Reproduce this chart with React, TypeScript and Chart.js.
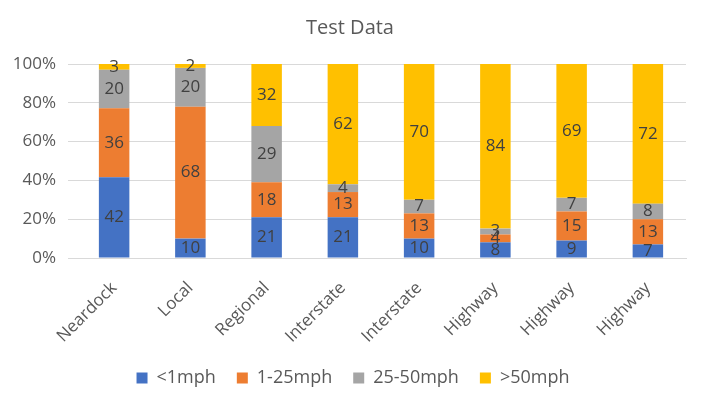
import React, { useEffect, useRef } from "react";
import { Chart, registerables } from "chart.js";

Chart.register(...registerables);

const categories = ["Neardock", "Local", "Regional", "Interstate", "Interstate", "Highway", "Highway", "Highway"];
const seriesNames = ["<1mph", "1-25mph", "25-50mph", ">50mph"];
const under1 = [42, 10, 21, 21, 10, 8, 9, 7];
const from1to25 = [36, 68, 18, 13, 13, 4, 15, 13];
const from25to50 = [20, 20, 29, 4, 7, 3, 7, 8];
const over50 = [3, 2, 32, 62, 70, 84, 69, 72];
const yTicks = [0, 20, 40, 60, 80, 100];

const colors = ["#4472C4", "#ED7D31", "#A5A5A5", "#FFC000"];
const FONT = "'Open Sans', 'Liberation Sans', sans-serif";

const raw = [under1, from1to25, from25to50, over50];
const totals = categories.map((_, i) => raw.reduce((s, arr) => s + arr[i], 0));

// Draws each segment's raw count in the middle of its bar piece
const segmentLabels = {
  id: "segmentLabels",
  afterDatasetsDraw(chart: any) {
    const ctx = chart.ctx;
    ctx.save();
    ctx.font = `17px ${FONT}`;
    ctx.fillStyle = "#404040";
    ctx.textAlign = "center";
    ctx.textBaseline = "middle";
    chart.data.datasets.forEach((ds: any, di: number) => {
      const meta = chart.getDatasetMeta(di);
      meta.data.forEach((bar: any, i: number) => {
        const v = ds.rawValues[i];
        const y = (bar.y + bar.base) / 2;
        ctx.fillText(String(v), bar.x, y);
      });
    });
    ctx.restore();
  },
};

// Nudges the title and legend so they sit centred under the plot rather than the whole canvas
const centreBoxes = {
  id: "centreBoxes",
  afterLayout(chart: any) {
    if (chart.legend) {
      chart.legend.left += 10;
      chart.legend.right += 10;
    }
    if (chart.titleBlock) {
      chart.titleBlock.left += 7;
      chart.titleBlock.right += 7;
    }
  },
};

export default function App() {
  const ref = useRef<HTMLCanvasElement>(null);

  useEffect(() => {
    if (!ref.current) return;
    const chart = new Chart(ref.current, {
      type: "bar",
      data: {
        labels: categories,
        datasets: raw.map((arr, k) => ({
          label: seriesNames[k],
          data: arr.map((v, i) => (v / totals[i]) * 100),
          rawValues: arr,
          backgroundColor: colors[k],
          borderWidth: 0,
          categoryPercentage: 1,
          barPercentage: 0.4,
        })) as any,
      },
      options: {
        animation: false,
        responsive: false,
        maintainAspectRatio: false,
        layout: { padding: { left: 0, right: 16, top: 0, bottom: -4 } },
        plugins: {
          title: {
            display: true,
            text: "Test Data",
            color: "#595959",
            font: { family: FONT, size: 20, weight: "normal" },
            padding: { top: 16, bottom: 24 },
          },
          legend: {
            position: "bottom",
            labels: {
              color: "#595959",
              font: { family: FONT, size: 18 },
              boxWidth: 11,
              boxHeight: 11,
              padding: 21,
            },
          },
          tooltip: { enabled: false },
        },
        scales: {
          x: {
            stacked: true,
            grid: { display: false },
            border: { color: "#D9D9D9" },
            ticks: {
              color: "#595959",
              font: { family: FONT, size: 17 },
              minRotation: 45,
              maxRotation: 45,
              padding: 12,
            },
            afterFit(scale: any) {
              scale.height = 90;
            },
          },
          y: {
            stacked: true,
            min: 0,
            max: 100,
            border: { display: false },
            grid: { color: "#D9D9D9" },
            afterBuildTicks(scale: any) {
              scale.ticks = yTicks.map((v) => ({ value: v }));
            },
            ticks: {
              color: "#595959",
              font: { family: FONT, size: 17 },
              padding: 12,
              callback: (v: any) => `${v}%`,
            },
            afterFit(scale: any) {
              scale.width = 76;
            },
          },
        },
      },
      plugins: [segmentLabels, centreBoxes],
    });
    return () => chart.destroy();
  }, []);

  return (
    <div style={{ position: "fixed", left: 0, top: 0, width: 702, height: 393, background: "#fff" }}>
      <canvas ref={ref} width={702} height={393} />
    </div>
  );
}
